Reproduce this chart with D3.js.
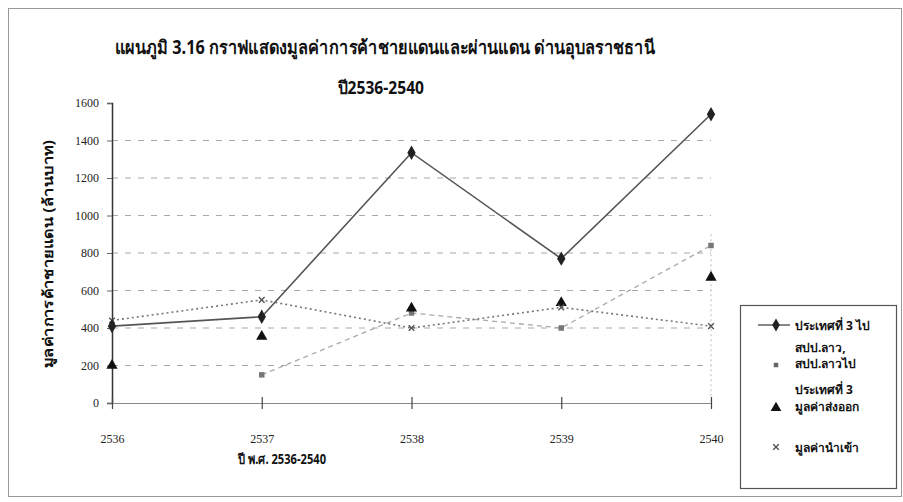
<!DOCTYPE html>
<html>
<head>
<meta charset="utf-8">
<script src="https://cdn.jsdelivr.net/npm/d3@7"></script>
<style>
  html, body { margin: 0; padding: 0; background: #fff; }
  svg { display: block; }
  .thai { font-family: "Noto Sans", "DejaVu Sans", "Liberation Serif", sans-serif; font-weight: bold; fill: #111; }
  .num { font-family: "Liberation Serif", "DejaVu Serif", serif; fill: #222; }
</style>
</head>
<body>
<svg id="chart" width="903" height="502"></svg>
<script>
// Years on the x axis
const years = ["2536", "2537", "2538", "2539", "2540"];
// Border and transit trade value, million baht
const thirdToLao = [410, 460, 1335, 770, 1540];   // ประเทศที่ 3 ไป สปป.ลาว
const laoToThird = [null, 150, 480, 400, 840];    // สปป.ลาวไป ประเทศที่ 3
const exportValue = [200, 355, 505, 535, 670];    // มูลค่าส่งออก
const importValue = [440, 550, 400, 510, 410];    // มูลค่านำเข้า
const yTicks = [0, 200, 400, 600, 800, 1000, 1200, 1400, 1600];
const gridTicks = [200, 400, 600, 800, 1000, 1200, 1400];

const titleLine1 = "แผนภูมิ 3.16 กราฟแสดงมูลค่าการค้าชายแดนและผ่านแดน ด่านอุบลราชธานี";
const titleLine2 = "ปี2536-2540";
const yTitle = "มูลค่าการค้าชายแดน (ล้านบาท)";
const xTitle = "ปี พ.ศ. 2536-2540";

const svg = d3.select("#chart");

// frame around the whole figure
svg.append("rect")
  .attr("x", 8.5).attr("y", 8.5).attr("width", 893).attr("height", 488)
  .attr("fill", "none").attr("stroke", "#999").attr("stroke-width", 1);

const x = d3.scalePoint().domain(years).range([112, 711]);
const y = d3.scaleLinear().domain([0, 1600]).range([403, 103]);

// titles
svg.append("text").attr("class", "thai")
  .attr("x", 385).attr("y", 54).attr("text-anchor", "middle")
  .attr("font-size", 19)
  .attr("textLength", 540).attr("lengthAdjust", "spacingAndGlyphs")
  .text(titleLine1);
svg.append("text").attr("class", "thai")
  .attr("x", 381).attr("y", 94).attr("text-anchor", "middle")
  .attr("font-size", 18)
  .attr("textLength", 86).attr("lengthAdjust", "spacingAndGlyphs")
  .text(titleLine2);

// grid lines
svg.append("g").selectAll("line").data(gridTicks).join("line")
  .attr("x1", x(years[0])).attr("x2", x(years[years.length - 1]))
  .attr("y1", d => y(d)).attr("y2", d => y(d))
  .attr("stroke", "#aaa").attr("stroke-width", 1.2)
  .attr("stroke-dasharray", "6,7");

// right edge of the plot area
svg.append("line")
  .attr("x1", x("2540")).attr("x2", x("2540"))
  .attr("y1", y(900)).attr("y2", y(0))
  .attr("stroke", "#bbb").attr("stroke-dasharray", "2,3");

// y axis
const yAxis = d3.axisLeft(y).tickValues(yTicks).tickSize(5).tickPadding(8).tickFormat(d3.format("d"));
const gy = svg.append("g").attr("transform", `translate(${x(years[0])},0)`).call(yAxis);
gy.select(".domain").attr("stroke", "#333").attr("stroke-width", 1.5);
gy.selectAll(".tick line").attr("stroke", "#666");
gy.selectAll(".tick text").attr("class", "num").attr("font-size", 12);

// x axis
const xAxis = d3.axisBottom(x).tickSize(0).tickPadding(31);
const gx = svg.append("g").attr("transform", `translate(0,${y(0)})`).call(xAxis);
gx.select(".domain").attr("stroke", "#888").attr("stroke-width", 1.2);
gx.selectAll(".tick text").attr("class", "num").attr("font-size", 12);
gx.selectAll(".tick").append("line")
  .attr("y1", -6).attr("y2", 6).attr("stroke", "#444").attr("stroke-width", 1.2);

// axis titles
svg.append("text").attr("class", "thai")
  .attr("transform", "translate(53,254) rotate(-90)")
  .attr("text-anchor", "middle").attr("font-size", 14)
  .attr("textLength", 228).attr("lengthAdjust", "spacingAndGlyphs")
  .text(yTitle);
svg.append("text").attr("class", "thai")
  .attr("x", 282).attr("y", 464).attr("text-anchor", "middle")
  .attr("font-size", 14)
  .attr("textLength", 88).attr("lengthAdjust", "spacingAndGlyphs")
  .text(xTitle);

// series lines
const lineOf = vals => d3.line()
  .defined(d => d != null)
  .x((d, i) => x(years[i]))
  .y(d => y(d))(vals);

svg.append("path").attr("d", lineOf(laoToThird))
  .attr("fill", "none").attr("stroke", "#aaa").attr("stroke-width", 1.3)
  .attr("stroke-dasharray", "5,4");
svg.append("path").attr("d", lineOf(importValue))
  .attr("fill", "none").attr("stroke", "#777").attr("stroke-width", 1.6)
  .attr("stroke-dasharray", "2,3");
svg.append("path").attr("d", lineOf(thirdToLao))
  .attr("fill", "none").attr("stroke", "#555").attr("stroke-width", 1.6);

// markers
const sym = (type, size) => d3.symbol().type(type).size(size)();
const markerGroup = (vals, type, size, fill) =>
  svg.append("g").selectAll("path")
    .data(vals.map((v, i) => ({ v, i })).filter(d => d.v != null))
    .join("path")
    .attr("transform", d => `translate(${x(years[d.i])},${y(d.v)})`)
    .attr("d", sym(type, size))
    .attr("fill", fill);

markerGroup(laoToThird, d3.symbolSquare, 30, "#777");
markerGroup(exportValue, d3.symbolTriangle, 55, "#111");
// x-shaped markers for imports
svg.append("g").selectAll("path")
  .data(importValue.map((v, i) => ({ v, i })))
  .join("path")
  .attr("transform", d => `translate(${x(years[d.i])},${y(d.v)}) rotate(45)`)
  .attr("d", "M-4,0H4M0,-4V4")
  .attr("fill", "none").attr("stroke", "#555").attr("stroke-width", 1.4);
markerGroup(thirdToLao, d3.symbolDiamond, 60, "#222");

// legend
const lg = svg.append("g");
lg.append("rect").attr("x", 740.5).attr("y", 305.5).attr("width", 156).attr("height", 183)
  .attr("fill", "#fff").attr("stroke", "#555").attr("stroke-width", 1.2);

const legendItems = [
  { lines: ["ประเทศที่ 3 ไป"], ys: [330], my: 325, kind: "diamond" },
  { lines: ["สปป.ลาว,", "สปป.ลาวไป"], ys: [352, 368], my: 365, kind: "square" },
  { lines: ["ประเทศที่ 3", "มูลค่าส่งออก"], ys: [394, 411], my: 408, kind: "triangle" },
  { lines: ["มูลค่านำเข้า"], ys: [452], my: 447, kind: "cross" }
];
legendItems.forEach(it => {
  it.lines.forEach((t, k) => {
    lg.append("text").attr("class", "thai")
      .attr("x", 795).attr("y", it.ys[k]).attr("font-size", 12)
      .text(t);
  });
  if (it.kind === "diamond") {
    lg.append("line").attr("x1", 758).attr("x2", 790).attr("y1", it.my).attr("y2", it.my)
      .attr("stroke", "#555").attr("stroke-width", 1.4);
    lg.append("path").attr("transform", `translate(776,${it.my})`).attr("d", sym(d3.symbolDiamond, 50)).attr("fill", "#222");
  } else if (it.kind === "square") {
    lg.append("path").attr("transform", `translate(776,${it.my})`).attr("d", sym(d3.symbolSquare, 20)).attr("fill", "#666");
  } else if (it.kind === "triangle") {
    lg.append("path").attr("transform", `translate(776,${it.my})`).attr("d", sym(d3.symbolTriangle, 50)).attr("fill", "#111");
  } else {
    lg.append("path").attr("transform", `translate(776,${it.my}) rotate(45)`)
      .attr("d", "M-4,0H4M0,-4V4").attr("stroke", "#555").attr("stroke-width", 1.4);
  }
});
</script>
</body>
</html>
